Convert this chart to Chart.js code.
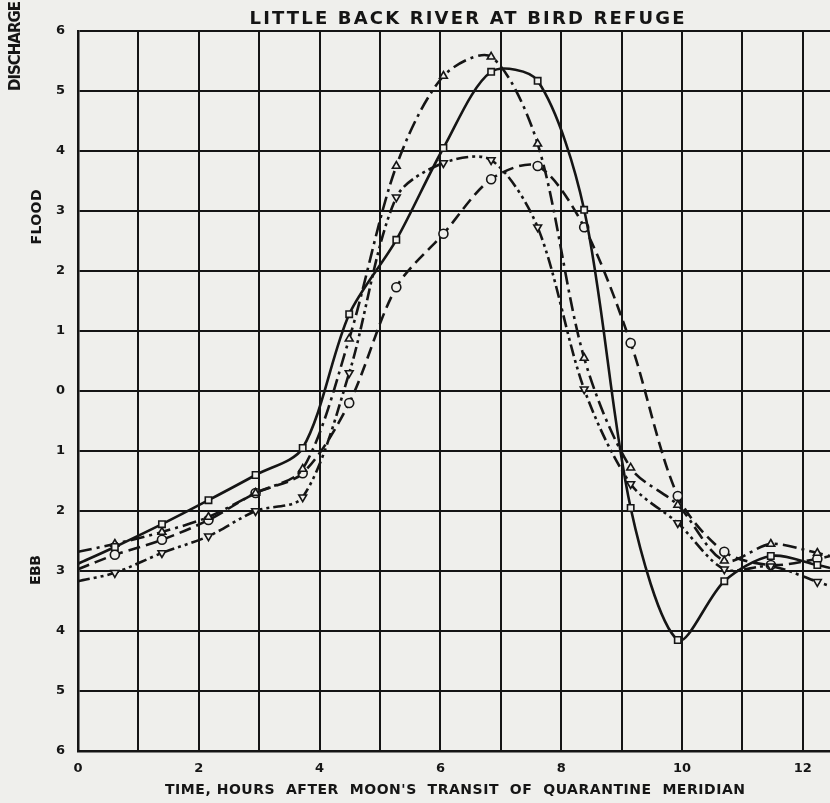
<!DOCTYPE html>
<html>
<head>
<meta charset="utf-8">
<script src="https://cdn.jsdelivr.net/npm/chart.js@4"></script>
<style>
  body { margin: 0; background: #efefec; }
  #wrap { width: 830px; height: 803px; position: relative; }
</style>
</head>
<body>
<div id="wrap"><canvas id="chart1"></canvas></div>
<script>
// time, hours after moon's transit (first and last are just the line ends, no marker)
const hours = [0, 0.61, 1.39, 2.16, 2.94, 3.72, 4.49, 5.27, 6.05, 6.84, 7.61, 8.38, 9.15, 9.93, 10.7, 11.47, 12.24, 12.45];

// discharge, flood positive / ebb negative
const solidSquares = [-2.88, -2.6, -2.22, -1.82, -1.4, -0.95, 1.28, 2.52, 4.05, 5.32, 5.17, 3.02, -1.95, -4.15, -3.17, -2.75, -2.9, -2.95];
const dashDotTriangles = [-2.68, -2.55, -2.35, -2.1, -1.7, -1.3, 0.87, 3.75, 5.25, 5.57, 4.12, 0.55, -1.28, -1.9, -2.83, -2.55, -2.7, -2.75];
const dashDotDotInverted = [-3.17, -3.03, -2.7, -2.42, -2.0, -1.77, 0.3, 3.23, 3.8, 3.85, 2.73, 0.03, -1.55, -2.2, -2.97, -2.92, -3.18, -3.25];
const dashedCircles = [-2.97, -2.73, -2.48, -2.15, -1.7, -1.37, -0.2, 1.73, 2.62, 3.53, 3.75, 2.73, 0.8, -1.75, -2.68, -2.9, -2.8, -2.75];

const xTickLabels = ["0", "2", "4", "6", "8", "10", "12"];

const PAPER = "#efefec";
const INK = "#151515";

// hide markers on the two line ends
const radii = hours.map((h, i) => (i === 0 || i === hours.length - 1) ? 0 : 4.5);

function pts(vals) {
  return hours.map((h, i) => ({ x: h, y: vals[i] }));
}

function series(vals, dash, style, rot) {
  return {
    data: pts(vals),
    borderColor: INK,
    borderWidth: 2.6,
    borderDash: dash,
    tension: 0.3,
    pointStyle: style,
    rotation: rot || 0,
    pointRadius: radii,
    pointBackgroundColor: PAPER,
    pointBorderColor: INK,
    pointBorderWidth: 1.6,
  };
}

// draw text stretched to a given width with letter spacing
function spaced(ctx, text, cx, cy, width) {
  ctx.letterSpacing = "0px";
  const w0 = ctx.measureText(text).width;
  const gap = (width - w0) / (text.length - 1);
  ctx.letterSpacing = gap + "px";
  ctx.textAlign = "left";
  ctx.textBaseline = "middle";
  ctx.fillText(text, cx - width / 2, cy);
  ctx.letterSpacing = "0px";
}

const paper = {
  id: "paper",
  beforeDraw(chart) {
    const ctx = chart.ctx;
    ctx.save();
    ctx.fillStyle = PAPER;
    ctx.fillRect(0, 0, chart.width, chart.height);
    ctx.restore();
  },
  afterDraw(chart) {
    const ctx = chart.ctx;
    ctx.save();
    ctx.fillStyle = INK;
    ctx.font = "bold 18px 'DejaVu Sans'";
    spaced(ctx, "LITTLE BACK RIVER AT BIRD REFUGE", 467, 19, 435);

    ctx.font = "bold 14px 'DejaVu Sans'";
    spaced(ctx, "TIME, HOURS  AFTER  MOON'S  TRANSIT  OF  QUARANTINE  MERIDIAN", 455, 790, 580);

    // rotated side labels
    const side = [["DISCHARGE", 16, 46, 90, 15], ["FLOOD", 37, 217, 55, 14], ["EBB", 36, 570, 30, 14]];
    side.forEach(([t, x, y, w, size]) => {
      ctx.save();
      ctx.translate(x, y);
      ctx.rotate(-Math.PI / 2);
      ctx.font = "bold " + size + "px 'DejaVu Sans'";
      spaced(ctx, t, 0, 0, w);
      ctx.restore();
    });
    ctx.restore();
  },
};

const chart1 = () => {
  const canvas = document.getElementById("chart1");
  const ctx = canvas.getContext("2d");

  new Chart(ctx, {
    type: "line",
    data: {
      datasets: [
        series(solidSquares, [], "rect"),
        series(dashDotTriangles, [14, 5, 3, 5], "triangle"),
        series(dashDotDotInverted, [12, 4, 3, 4, 3, 4], "triangle", 180),
        series(dashedCircles, [12, 6], "circle"),
      ],
    },
    options: {
      responsive: true,
      maintainAspectRatio: false,
      animation: false,
      layout: { padding: { top: 31, left: 0, right: 0, bottom: 0 } },
      plugins: {
        legend: { display: false },
        title: { display: false },
        tooltip: { enabled: false },
      },
      scales: {
        x: {
          type: "linear",
          min: 0,
          max: 12.45,
          afterFit: (s) => { s.height = 52; },
          border: { color: INK, width: 2.5 },
          grid: { color: INK, lineWidth: 2, drawTicks: false },
          ticks: {
            stepSize: 1,
            includeBounds: false,
            padding: 10,
            color: INK,
            font: { family: "DejaVu Sans", size: 13, weight: "bold" },
            maxRotation: 0,
            autoSkip: false,
            callback: (v) => (v % 2 === 0 ? xTickLabels[v / 2] : ""),
          },
        },
        y: {
          min: -6,
          max: 6,
          afterFit: (s) => { s.width = 78; },
          border: { color: INK, width: 2.5 },
          grid: { color: INK, lineWidth: 2, drawTicks: false },
          ticks: {
            stepSize: 1,
            padding: 13,
            color: INK,
            font: { family: "DejaVu Sans", size: 13, weight: "bold" },
            callback: (v) => String(Math.abs(v)),
          },
        },
      },
    },
    plugins: [paper],
  });
};

chart1();
</script>
</body>
</html>
